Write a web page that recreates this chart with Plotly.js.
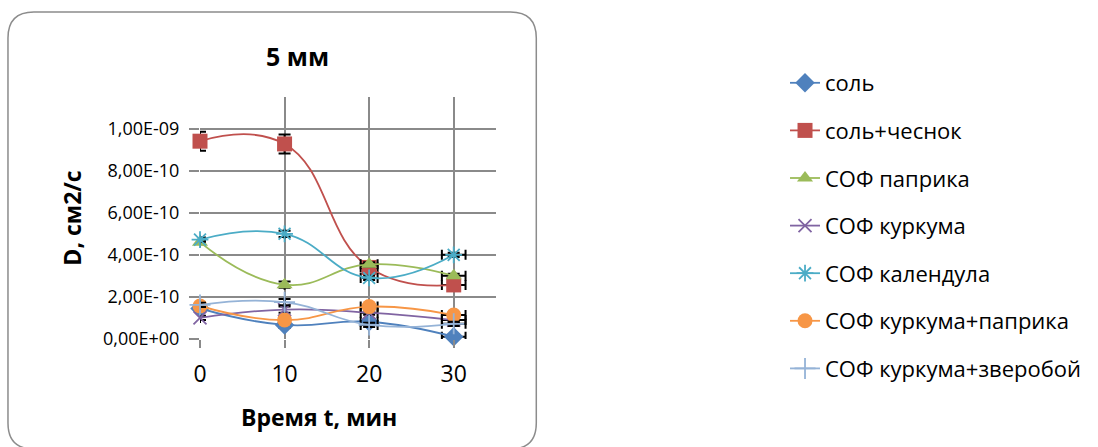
<!DOCTYPE html>
<html>
<head>
<meta charset="utf-8">
<script src="https://cdn.plot.ly/plotly-3.0.1.min.js"></script>
<style>html,body{margin:0;padding:0;background:#fff;}#chart{width:1098px;height:447px;}</style>
</head>
<body>
<div id="chart"></div>
<script>
// ---- data ----
var timeMin = [0, 10, 20, 30];
var seriesNames = ["соль", "соль+чеснок", "СОФ паприка", "СОФ куркума", "СОФ календула", "СОФ куркума+паприка", "СОФ куркума+зверобой"];
var sol        = [1.45e-10, 0.67e-10, 0.82e-10, 0.11e-10];
var solGarlic  = [9.40e-10, 9.27e-10, 3.40e-10, 2.57e-10];
var paprika    = [4.60e-10, 2.58e-10, 3.55e-10, 3.00e-10];
var kurkuma    = [1.00e-10, 1.40e-10, 1.25e-10, 0.90e-10];
var kalendula  = [4.72e-10, 5.00e-10, 2.90e-10, 4.00e-10];
var kurkPapr   = [1.57e-10, 0.90e-10, 1.54e-10, 1.14e-10];
var kurkZver   = [1.62e-10, 1.75e-10, 0.67e-10, 0.72e-10];
// error bars
var errX       = [0, 0, 1.0, 1.4];
var errYGarlic = [0.45e-10, 0.45e-10, 0.1e-10, 0.1e-10];
var errYSmall  = [0.1e-10, 0.15e-10, 0.1e-10, 0.1e-10];
// axis tick labels
var yTickVals  = [0, 2e-10, 4e-10, 6e-10, 8e-10, 1e-9];
var yTickText  = ["0,00E+00", "2,00E-10", "4,00E-10", "6,00E-10", "8,00E-10", "1,00E-09"];
var xTickVals  = [0, 10, 20, 30];
var xTickText  = ["0", "10", "20", "30"];

var values  = [sol, solGarlic, paprika, kurkuma, kalendula, kurkPapr, kurkZver];
var colors  = ["#4F81BD", "#C0504D", "#9BBB59", "#8064A2", "#4BACC6", "#F79646", "#95B3D7"];
var symbols = ["diamond", "square", "triangle-up", "x-thin", "asterisk", "circle", "cross-thin"];
var sizes   = [15, 15, 14, 13, 14, 15, 15];
var yErrs   = [errYSmall, errYGarlic, errYSmall, errYSmall, errYSmall, errYSmall, errYSmall];

var FONT = "Open Sans, Noto Sans, sans-serif";

var traces = values.map(function (v, i) {
  var thin = (symbols[i].indexOf("thin") >= 0 || symbols[i] === "asterisk");
  return {
    type: "scatter", mode: "lines+markers",
    name: seriesNames[i], legendgroup: "g" + i,
    x: timeMin, y: v,
    cliponaxis: false,
    line: {color: colors[i], width: 1.8, shape: "spline", smoothing: 1.3},
    marker: {symbol: symbols[i], size: sizes[i], color: colors[i],
             line: {color: colors[i], width: thin ? 1.8 : 0}},
    error_x: {type: "data", array: errX, visible: true, color: "#000", thickness: 2, width: 5},
    error_y: {type: "data", array: yErrs[i], visible: true, color: "#000", thickness: 2, width: 6}
  };
});

// plot-area pixel geometry
var L = 200, R = 497.5, T = 97, B = 339, W = 1098, H = 447;
function px2x(p) { return (p - L) / (R - L); }
function px2y(p) { return (B - p) / (B - T); }

// rounded chart-area border
var bx0 = 7, bx1 = 538, by0 = 12, by1 = 449, rr = 26;
var path = "M" + px2x(bx0 + rr) + "," + px2y(by0) +
  " L" + px2x(bx1 - rr) + "," + px2y(by0) +
  " Q" + px2x(bx1) + "," + px2y(by0) + " " + px2x(bx1) + "," + px2y(by0 + rr) +
  " L" + px2x(bx1) + "," + px2y(by1 - rr) +
  " Q" + px2x(bx1) + "," + px2y(by1) + " " + px2x(bx1 - rr) + "," + px2y(by1) +
  " L" + px2x(bx0 + rr) + "," + px2y(by1) +
  " Q" + px2x(bx0) + "," + px2y(by1) + " " + px2x(bx0) + "," + px2y(by1 - rr) +
  " L" + px2x(bx0) + "," + px2y(by0 + rr) +
  " Q" + px2x(bx0) + "," + px2y(by0) + " " + px2x(bx0 + rr) + "," + px2y(by0) + " Z";

var layout = {
  width: W, height: H,
  margin: {l: L, r: W - R, t: T, b: H - B, pad: 0},
  paper_bgcolor: "#fff", plot_bgcolor: "rgba(0,0,0,0)",
  font: {family: FONT, color: "#000"},
  title: {text: "<b>5 мм</b>", font: {family: FONT, size: 25, color: "#000"},
          x: px2x(298), xref: "paper", xanchor: "center",
          y: 1 - 57 / H, yref: "container", yanchor: "middle"},
  xaxis: {range: [0, 35], tickvals: xTickVals, ticktext: xTickText,
          showgrid: true, gridcolor: "#8a8a8a", gridwidth: 2,
          ticks: "outside", ticklen: 8, tickwidth: 2, tickcolor: "#8a8a8a",
          showline: false, zeroline: false, ticklabelstandoff: 6,
          tickfont: {family: FONT, size: 23, color: "#000"}, fixedrange: true},
  yaxis: {range: [0, 1.15e-9], tickvals: yTickVals, ticktext: yTickText,
          showgrid: true, gridcolor: "#8a8a8a", gridwidth: 2,
          ticks: "outside", ticklen: 10, tickwidth: 2, tickcolor: "#8a8a8a",
          showline: false, zeroline: false, ticklabelstandoff: 6,
          tickfont: {family: FONT, size: 18, color: "#000"},
          title: {text: "<b>D, см2/с</b>", font: {family: FONT, size: 23, color: "#000"}, standoff: 14},
          fixedrange: true},
  annotations: [{text: "<b>Время t, мин</b>", xref: "paper", yref: "paper",
                 x: px2x(320), y: px2y(417), xanchor: "center", yanchor: "middle",
                 showarrow: false, font: {family: FONT, size: 23, color: "#000"}}],
  shapes: [{type: "path", xref: "paper", yref: "paper", path: path,
            line: {color: "#8c8c8c", width: 1.5}, fillcolor: "rgba(0,0,0,0)", layer: "below"}],
  legend: {x: px2x(786), xanchor: "left", y: px2y(62), yanchor: "top",
           traceorder: "grouped", tracegroupgap: 16, maxheight: 440,
           font: {family: FONT, size: 22, color: "#000"}, bgcolor: "rgba(0,0,0,0)"},
  showlegend: true
};

Plotly.newPlot("chart", traces, layout, {displayModeBar: false, staticPlot: true});
</script>
</body>
</html>
